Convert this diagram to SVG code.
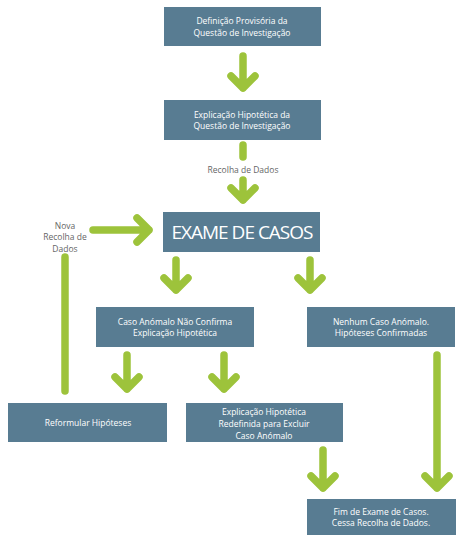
<svg xmlns="http://www.w3.org/2000/svg" width="456" height="535" viewBox="0 0 456 535">
<style>
.box{fill:#587c92}
.t{font-family:"Open Sans","Noto Sans",sans-serif;font-size:8.5px;fill:#ffffff;text-anchor:middle}
.big{font-family:"Open Sans","Noto Sans",sans-serif;font-size:19px;fill:#ffffff;text-anchor:middle;letter-spacing:-1px}
.lbl{font-family:"Open Sans","Noto Sans",sans-serif;font-size:8.5px;fill:#666666;text-anchor:middle}
.c{fill:none;stroke:#9dc33b;stroke-width:7.5;stroke-linecap:round;stroke-linejoin:round}
</style>
<rect width="456" height="535" fill="#ffffff"/>
<g id="connectors">
<path class="c" d="M243 56V88M231 76L243 88L255 76"/>
<path class="c" d="M243 145V157"/>
<path class="c" d="M243 180V200M231 188L243 200L255 188"/>
<path class="c" d="M93 230H149M137 218L149 230L137 242"/>
<path class="c" d="M65 257V391"/>
<path class="c" d="M176 260V290M164 278L176 290L188 278"/>
<path class="c" d="M310 260V290M298 278L310 290L322 278"/>
<path class="c" d="M127 355V389M115 377L127 389L139 377"/>
<path class="c" d="M224 355V389M212 377L224 389L236 377"/>
<path class="c" d="M437 355V488M425 476L437 488L449 476"/>
<path class="c" d="M323 450V488M311 476L323 488L335 476"/>
</g>
<g id="n1"><rect class="box" x="164" y="7" width="157" height="39"/><text class="t" x="242" y="24">Definição Provisória da</text><text class="t" x="242" y="35.8">Questão de Investigação</text></g>
<g id="n2"><rect class="box" x="164" y="100" width="157" height="40"/><text class="t" x="242" y="117.5">Explicação Hipotética da</text><text class="t" x="242" y="129.3">Questão de Investigação</text></g>
<g id="lbl1"><text class="lbl" x="243" y="173">Recolha de Dados</text></g>
<g id="n3"><rect class="box" x="163" y="212" width="157" height="40"/><text class="big" x="242" y="239">EXAME DE CASOS</text></g>
<g id="lbl2"><text class="lbl" x="65" y="228.5">Nova</text><text class="lbl" x="65" y="240.3">Recolha de</text><text class="lbl" x="65" y="252.1">Dados</text></g>
<g id="n4"><rect class="box" x="96" y="307" width="158" height="40"/><text class="t" x="175" y="324.5">Caso Anómalo Não Confirma</text><text class="t" x="175" y="336.3">Explicação Hipotética</text></g>
<g id="n5"><rect class="box" x="307" y="307" width="148" height="40"/><text class="t" x="381" y="324.5">Nenhum Caso Anómalo.</text><text class="t" x="381" y="336.3">Hipóteses Confirmadas</text></g>
<g id="n6"><rect class="box" x="8" y="403" width="159" height="39"/><text class="t" x="88" y="425.5">Reformular Hipóteses</text></g>
<g id="n7"><rect class="box" x="186" y="403" width="157" height="39"/><text class="t" x="264" y="415">Explicação Hipotética</text><text class="t" x="264" y="426.8">Redefinida para Excluir</text><text class="t" x="264" y="438.6">Caso Anómalo</text></g>
<g id="n8"><rect class="box" x="307" y="499" width="149" height="36"/><text class="t" x="381" y="514.5">Fim de Exame de Casos.</text><text class="t" x="381" y="526.3">Cessa Recolha de Dados.</text></g>
</svg>
